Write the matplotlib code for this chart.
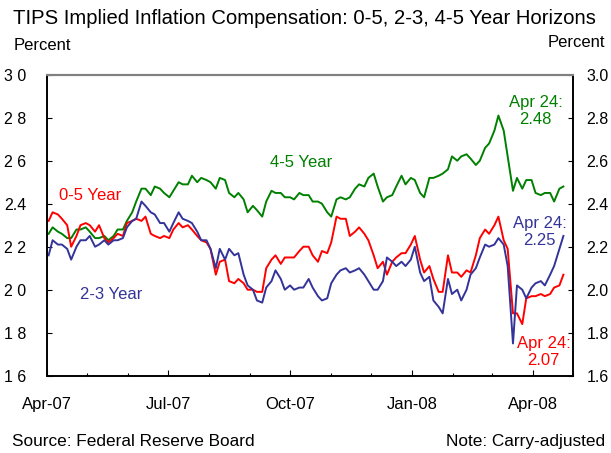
import numpy as np
import pandas as pd
import matplotlib
matplotlib.use('Agg')
import matplotlib.pyplot as plt
import matplotlib.dates as mdates

plt.rcParams['font.family'] = ['Liberation Sans', 'DejaVu Sans']

# readings taken every Monday and Thursday, Apr 2 2007 - Apr 24 2008
mondays = pd.date_range('2007-04-02', '2008-04-21', freq='W-MON')
thursdays = pd.date_range('2007-04-05', '2008-04-24', freq='W-THU')
dates = mondays.append(thursdays).sort_values()

# 0-5 year horizon (percent)
y0_5 = [2.32, 2.36, 2.35, 2.33, 2.30, 2.20, 2.25, 2.30, 2.31, 2.30,
        2.27, 2.30, 2.24, 2.22, 2.24, 2.26, 2.25, 2.31, 2.32, 2.33,
        2.32, 2.34, 2.26, 2.25, 2.24, 2.25, 2.24, 2.28, 2.31, 2.29,
        2.30, 2.28, 2.25, 2.23, 2.22, 2.19, 2.07, 2.13, 2.14, 2.04,
        2.03, 2.05, 2.03, 2.00, 2.00, 1.99, 1.99, 2.10, 2.14, 2.16,
        2.12, 2.15, 2.15, 2.15, 2.18, 2.20, 2.20, 2.16, 2.13, 2.18,
        2.17, 2.22, 2.34, 2.33, 2.33, 2.25, 2.27, 2.29, 2.26, 2.23,
        2.16, 2.10, 2.13, 2.07, 2.13, 2.15, 2.17, 2.17, 2.21, 2.25,
        2.14, 2.08, 2.11, 2.05, 1.99, 1.99, 2.16, 2.08, 2.08, 2.06,
        2.09, 2.08, 2.16, 2.24, 2.28, 2.26, 2.30, 2.34, 2.23, 2.19,
        1.89, 1.89, 1.84, 1.96, 1.97, 1.97, 1.98, 1.97, 1.98, 2.01,
        2.02, 2.07]

# 2-3 year horizon
y2_3 = [2.16, 2.23, 2.21, 2.21, 2.19, 2.14, 2.20, 2.23, 2.23, 2.25,
        2.20, 2.21, 2.23, 2.21, 2.23, 2.23, 2.24, 2.29, 2.32, 2.33,
        2.41, 2.39, 2.36, 2.35, 2.31, 2.31, 2.27, 2.31, 2.36, 2.33,
        2.32, 2.31, 2.27, 2.23, 2.23, 2.19, 2.10, 2.19, 2.14, 2.19,
        2.16, 2.17, 2.07, 2.02, 2.00, 1.95, 1.94, 2.01, 2.04, 2.09,
        2.05, 2.00, 2.02, 2.00, 2.01, 2.01, 2.05, 2.01, 1.97, 1.95,
        1.96, 2.03, 2.07, 2.09, 2.10, 2.08, 2.09, 2.10, 2.07, 2.04,
        2.00, 2.00, 2.04, 2.15, 2.13, 2.11, 2.13, 2.11, 2.14, 2.20,
        2.08, 2.04, 2.06, 1.95, 1.92, 1.89, 2.05, 1.98, 2.00, 1.95,
        2.00, 2.07, 2.10, 2.15, 2.21, 2.20, 2.21, 2.24, 2.21, 2.11,
        1.75, 2.02, 2.00, 1.96, 2.01, 2.03, 2.04, 2.02, 2.07, 2.11,
        2.19, 2.25]

# 4-5 year horizon
y4_5 = [2.26, 2.29, 2.27, 2.26, 2.24, 2.24, 2.28, 2.28, 2.29, 2.27,
        2.24, 2.24, 2.25, 2.23, 2.25, 2.28, 2.28, 2.32, 2.36, 2.41,
        2.47, 2.47, 2.44, 2.48, 2.47, 2.45, 2.43, 2.46, 2.50, 2.49,
        2.49, 2.53, 2.50, 2.52, 2.51, 2.50, 2.47, 2.52, 2.51, 2.45,
        2.43, 2.45, 2.42, 2.36, 2.39, 2.37, 2.34, 2.41, 2.46, 2.45,
        2.45, 2.43, 2.43, 2.42, 2.45, 2.44, 2.44, 2.41, 2.41, 2.40,
        2.36, 2.34, 2.42, 2.43, 2.42, 2.43, 2.47, 2.49, 2.48, 2.52,
        2.54, 2.48, 2.41, 2.43, 2.44, 2.48, 2.53, 2.49, 2.52, 2.51,
        2.45, 2.43, 2.52, 2.52, 2.53, 2.54, 2.56, 2.62, 2.60, 2.62,
        2.63, 2.61, 2.58, 2.60, 2.66, 2.68, 2.74, 2.81, 2.74, 2.62,
        2.46, 2.52, 2.47, 2.51, 2.51, 2.45, 2.44, 2.45, 2.45, 2.41,
        2.47, 2.48]

yticks = [1.6, 1.8, 2.0, 2.2, 2.4, 2.6, 2.8, 3.0]
left_labels = ['1 6', '1 8', '2 0', '2 2', '2.4', '2 6', '2 8', '3 0']
right_labels = ['1.6', '1.8', '2.0', '2.2', '2.4', '2.6', '2.8', '3.0']

RED = '#ff0000'
BLUE = '#333399'
GREEN = '#008000'

fig = plt.figure(figsize=(6.11, 4.53), dpi=100)
ax = fig.add_axes([0.0774, 0.1706, 0.8599, 0.6645])

ax.plot(dates, y4_5, color=GREEN, lw=1.4)
ax.plot(dates, y0_5, color=RED, lw=1.4)
ax.plot(dates, y2_3, color=BLUE, lw=1.4)

ax.set_xlim(pd.Timestamp('2007-04-01'), pd.Timestamp('2008-05-01'))
ax.set_ylim(1.6, 3.0)

ax.xaxis.set_major_locator(mdates.MonthLocator(bymonth=[1, 4, 7, 10]))
ax.xaxis.set_major_formatter(mdates.DateFormatter('%b-%y'))
ax.xaxis.set_minor_locator(mdates.MonthLocator())
ax.set_yticks(yticks, left_labels)

ax2 = ax.twinx()
ax2.set_ylim(1.6, 3.0)
ax2.set_yticks(yticks, right_labels)

for a in (ax, ax2):
    for side in ['left', 'right', 'bottom']:
        a.spines[side].set_color('black')
        a.spines[side].set_linewidth(1.2)
    a.spines['top'].set_color('#808080')
    a.spines['top'].set_linewidth(1.5)

ax.tick_params(axis='x', which='major', direction='in', length=4, width=0.8,
               pad=15, labelsize=12)
ax.tick_params(axis='x', which='minor', direction='in', length=2.5, width=0.8)
ax.tick_params(axis='y', direction='in', length=3.5, width=0.8, pad=15,
               labelsize=11.5)
ax2.tick_params(axis='y', direction='in', length=3.5, width=0.8, pad=10,
                labelsize=11.5)

# series labels
ax.text(pd.Timestamp('2007-05-03'), 2.44, '0-5 Year', color=RED,
        fontsize=12, ha='center', va='center')
ax.text(pd.Timestamp('2007-05-19'), 1.98, '2-3 Year', color=BLUE,
        fontsize=12, ha='center', va='center')
ax.text(pd.Timestamp('2007-10-09'), 2.59, '4-5 Year', color=GREEN,
        fontsize=12, ha='center', va='center')
ax.text(pd.Timestamp('2008-04-03'), 2.83, 'Apr 24:\n2.48', color=GREEN,
        fontsize=12, ha='center', va='center', linespacing=1.15)
ax.text(pd.Timestamp('2008-04-06'), 2.27, 'Apr 24:\n2.25', color=BLUE,
        fontsize=12, ha='center', va='center', linespacing=1.15)
ax.text(pd.Timestamp('2008-04-09'), 1.71, 'Apr 24:\n2.07', color=RED,
        fontsize=12, ha='center', va='center', linespacing=1.15)

fig.text(0.021, 0.948, 'TIPS Implied Inflation Compensation: 0-5, 2-3, 4-5 Year Horizons',
         fontsize=14.6, ha='left', va='baseline')
fig.text(0.022, 0.889, 'Percent', fontsize=12, ha='left', va='baseline')
fig.text(0.99, 0.896, 'Percent', fontsize=12, ha='right', va='baseline')
fig.text(0.02, 0.015, 'Source: Federal Reserve Board', fontsize=12.4,
         ha='left', va='baseline')
fig.text(0.99, 0.015, 'Note: Carry-adjusted', fontsize=12.4,
         ha='right', va='baseline')

fig.savefig('out.png', dpi=100)
